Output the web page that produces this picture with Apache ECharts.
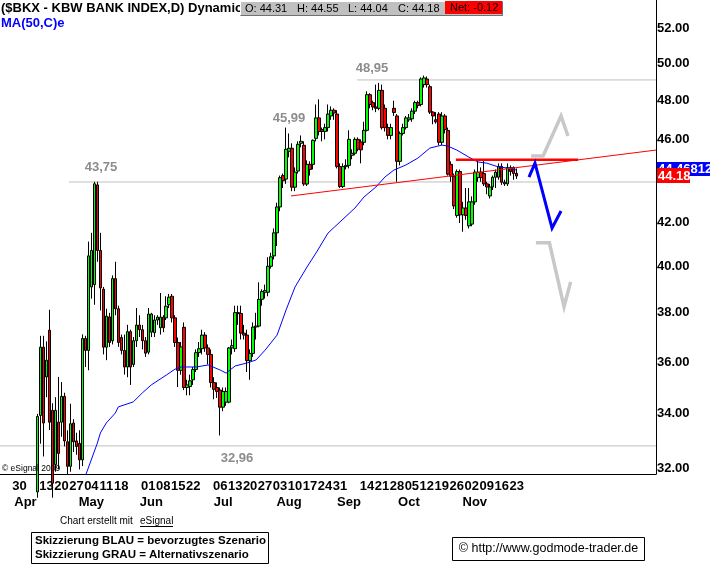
<!DOCTYPE html>
<html><head><meta charset="utf-8">
<script src="https://cdn.jsdelivr.net/npm/echarts@6/dist/echarts.min.js"></script>
<style>html,body{margin:0;padding:0;background:#fff}#c{width:720px;height:567px}</style>
</head><body><div id="c"></div>
<script>
// ---- categories: trading days (index 6 = 2009-03-30)
const NCAT = 219;
const LEAD = 6;
const holidays = ["2009-04-10","2009-05-25","2009-07-03","2009-09-07","2009-11-26","2009-12-25","2010-01-01","2010-01-18","2010-02-15"];
// day index 0 = 2009-03-30
const opens = [null,null,null,null,null,null,
31.2,33.94,36.59,35.41,37.28,34.13,32.15,33.69,33.69,34.66,32.97,32.09,33.66,33.0,32.91,32.32,36.94,36.46,39.1,39.2,43.75,40.7,39.0,36.59,37.83,36.85,39.46,38.17,36.98,36.46,35.8,37.22,35.9,36.85,37.49,37.3,36.85,36.39,37.2,37.18,37.7,37.38,37.82,37.79,38.34,38.7,37.79,36.78,
35.67,37.4,35.0,35.04,35.3,35.7,36.37,36.53,37.08,36.56,36.3,35.19,35.0,34.9,34.25,34.44,34.44,36.56,36.53,37.97,37.97,37.16,37.08,36.05,36.34,37.41,37.45,38.57,38.87,38.87,40.0,40.46,
41.5,42.7,44.2,44.03,45.4,45.55,43.64,44.42,45.8,45.7,43.79,44.75,44.75,46.05,47.1,46.5,46.4,46.6,
47.2,47.5,47.3,44.64,43.67,44.64,44.7,45.2,45.3,46.0,45.87,45.85,46.46,48.32,47.9,47.67,47.6,48.55,47.6,46.6,46.2,47.6,47.2,
44.9,46.3,46.6,47.0,47.05,47.45,47.9,47.8,48.86,49.16,48.75,47.4,47.0,47.3,45.85,47.2,46.45,44.75,44.17,42.3,44.4,42.33,42.65,41.82,41.9,42.94,44.1,44.37,44.3,43.8,43.22,43.65,44.12,44.12,44.65,43.88,43.8,44.6,44.6,44.31];
const highs = [null,null,null,null,null,null,
34.0,37.05,37.05,36.82,38.13,34.4,34.63,35.41,35.21,34.8,33.39,34.38,33.8,33.3,33.39,37.11,37.05,41.1,41.5,43.9,43.9,41.5,39.1,38.17,38.0,39.6,40.2,38.3,37.1,37.1,37.5,37.3,37.0,38.2,37.9,37.5,37.0,38.2,38.0,37.9,37.9,38.84,37.9,38.7,38.8,38.8,37.9,36.98,
36.8,37.6,35.3,35.5,35.8,36.5,36.8,37.3,37.2,36.7,36.5,35.4,35.2,35.0,35.0,35.0,36.6,36.9,38.3,38.3,38.3,37.5,37.3,36.5,37.6,38.0,39.3,39.0,39.2,40.4,40.6,41.7,
42.9,44.2,44.3,46.6,46.3,45.8,44.6,45.9,46.2,45.9,44.95,44.9,46.0,47.8,48.07,46.6,46.8,47.8,
47.7,47.6,47.5,44.8,44.8,45.0,46.46,45.5,46.1,46.1,46.0,46.9,48.5,48.4,48.0,48.86,48.95,48.86,47.8,46.8,46.8,48.0,47.3,
46.4,46.8,47.2,47.3,47.6,48.0,48.0,49.25,49.35,49.3,48.86,47.45,47.4,47.4,47.4,47.3,46.6,44.9,44.3,44.5,44.5,42.94,43.6,43.6,43.2,44.5,45.0,44.6,45.0,43.9,43.8,44.2,44.5,44.8,44.8,44.0,44.8,44.7,44.65,44.55];
const lows = [null,null,null,null,null,null,
31.0,32.9,32.44,34.63,33.4,31.0,31.9,31.98,33.15,32.8,31.8,31.9,32.6,32.5,31.98,32.1,35.8,35.67,38.6,38.34,40.2,38.1,36.3,36.07,36.6,36.7,37.9,36.6,36.3,35.5,35.4,35.1,35.8,36.6,37.0,36.5,36.2,36.3,37.0,37.0,37.5,37.1,37.2,37.7,38.2,37.6,36.6,35.02,
35.5,34.9,34.7,34.7,35.1,35.6,36.2,36.3,36.4,35.9,35.0,34.55,34.6,33.2,34.1,34.3,34.4,36.3,36.4,37.5,36.9,36.9,35.6,35.3,36.2,36.9,37.4,38.3,38.6,38.7,39.9,40.3,
40.9,42.5,43.6,43.8,45.1,43.45,43.45,44.3,45.6,43.7,43.7,44.2,44.5,45.9,46.2,45.9,46.0,46.4,
47.0,47.0,44.55,43.6,43.6,44.5,44.55,45.0,45.2,45.4,44.8,45.7,46.4,47.6,47.5,47.4,47.5,46.5,46.4,46.0,46.0,47.2,43.9,
44.7,46.2,46.5,46.9,46.9,47.3,47.6,47.7,48.7,48.7,47.3,46.77,46.8,45.7,45.7,46.3,44.2,43.9,42.6,42.2,41.95,41.55,42.1,41.7,41.8,42.8,43.9,43.9,43.7,43.3,43.1,43.5,43.6,44.0,43.75,43.7,43.7,44.2,44.0,44.04];
const closes = [null,null,null,null,null,null,
33.9,36.59,33.66,36.07,33.69,31.5,34.13,32.55,34.66,33.0,32.09,33.63,32.97,32.8,32.32,36.94,36.46,40.46,40.7,43.8,40.7,39.06,36.59,37.86,36.78,39.46,38.17,36.78,36.46,35.8,37.22,35.8,36.85,37.49,37.3,36.85,36.35,37.95,37.95,37.7,37.82,37.82,37.38,38.28,38.66,37.79,36.78,35.67,
36.6,35.0,35.1,35.26,35.7,36.37,36.53,37.08,36.56,36.3,35.19,34.93,34.85,34.25,34.85,34.85,36.56,36.65,38.01,38.01,37.16,37.08,36.05,36.34,37.41,37.45,38.57,38.9,38.95,40.0,40.42,41.5,
42.7,44.1,43.95,45.5,45.55,43.64,44.37,45.75,45.9,43.79,44.75,44.5,45.95,47.1,46.4,46.4,46.6,47.3,
47.5,47.35,44.64,43.67,44.64,44.7,46.0,45.3,46.0,45.5,45.47,46.46,48.32,47.8,47.67,47.6,48.55,46.6,46.6,46.2,46.6,47.38,44.9,
46.3,46.6,47.1,47.1,47.45,47.9,47.75,49.16,49.22,48.86,47.4,47.2,46.9,45.85,47.2,46.5,44.27,44.17,42.75,44.4,42.33,42.65,42.3,42.94,42.94,44.37,44.37,44.1,43.8,43.65,43.65,44.12,44.37,44.65,43.88,43.8,44.6,44.4,44.3,44.18];

// MA(50): day index / value
const maDays   = [22,26,27,29,32,33,38,41,44,49,52,54,59,63,67,69,72,76,79,82,86,89,92,96,99,103,112,115,119,122,125,129,133,137,141,143,146,150,153,156,160,163,166];
const maValues = [31.75,32.92,33.29,33.66,34.03,34.26,34.45,34.79,35.10,35.48,35.72,35.80,35.80,35.88,35.68,35.56,35.84,35.96,36.08,36.47,37.08,38.12,39.10,39.97,40.59,41.49,42.65,43.17,43.65,44.13,44.47,44.72,45.06,45.56,45.71,45.66,45.46,45.11,44.87,44.81,44.62,44.57,44.47];

// axis ticks / labels
const yTicks = [32,34,36,38,40,42,44,46,48,50,52];
const dayLabelDates = ["2009-03-30","2009-04-13","2009-04-20","2009-04-27","2009-05-04","2009-05-11","2009-05-18","2009-06-01","2009-06-08","2009-06-15","2009-06-22","2009-07-06","2009-07-13","2009-07-20","2009-07-27","2009-08-03","2009-08-10","2009-08-17","2009-08-24","2009-08-31","2009-09-14","2009-09-21","2009-09-28","2009-10-05","2009-10-12","2009-10-19","2009-10-26","2009-11-02","2009-11-09","2009-11-16","2009-11-23"];
const monthLabelDates = ["2009-04-01","2009-05-04","2009-06-02","2009-07-07","2009-08-06","2009-09-03","2009-10-02","2009-11-03"];
const monthNames = ["Apr","May","Jun","Jul","Aug","Sep","Oct","Nov"];

// annotations (day index, price)
const grayLineStart = [112.7, 16.5, -6.5];
const grayLineValue = [49.11, 43.89, 32.82];
const grayLabels = ["48,95","43,75","32,96","45,99"];
const trendX = [90.65, 212.5], trendY = [43.22, 45.46];
const resistX = [145.7, 186.5], resistY = [44.98, 44.98];
const blueArrowX = [170.1, 172.1, 177.8, 180.8], blueArrowY = [44.13, 44.81, 41.72, 42.51];
const grayUpX = [170.8, 174.8, 180.8, 183.1], grayUpY = [45.16, 45.16, 47.20, 46.17];
const grayDnX = [172.4, 176.9, 181.8, 184.0], grayDnY = [41.05, 41.05, 38.26, 39.32];
const lastClose = "44.18", maLast = "44.46812";
const header = {o:"44.31", h:"44.55", l:"44.04", c:"44.18", net:"-0.12"};

// ---- build
const dates = (function(){
  const out = []; let t = Date.UTC(2009,2,20);
  while (out.length < NCAT) {
    const dt = new Date(t); const wd = dt.getUTCDay(); const s = dt.toISOString().slice(0,10);
    if (wd !== 0 && wd !== 6 && holidays.indexOf(s) < 0) out.push(s);
    t += 86400000;
  }
  return out;
})();
const candleData = dates.map((d, k) => {
  const i = k - LEAD;
  if (i < 0 || i >= opens.length || opens[i] == null) return '-';
  return [opens[i], closes[i], lows[i], highs[i]];
});
const zip = (xs, ys) => xs.map((x, i) => [x, ys[i]]);
const FONT = '"Liberation Sans", Arial, Helvetica, sans-serif';
const daySet = new Set(dayLabelDates);
const monthMap = {}; monthLabelDates.forEach((d,i)=>monthMap[d]=monthNames[i]);
const XMIN = -LEAD - 0.5, XMAX = NCAT - LEAD - 0.5;

function lineSeries(data, color, width, z, extra) {
  return Object.assign({type:'line', xAxisIndex:2, yAxisIndex:0, data, symbol:'none', silent:true,
    lineStyle:{color, width, cap:'butt', join:'miter'}, z, animation:false}, extra||{});
}
const series = [
  {type:'candlestick', xAxisIndex:0, yAxisIndex:0, data:candleData, barWidth:3, z:3,
   itemStyle:{color:'#00ff00', color0:'#ff0000', borderColor:'#000', borderColor0:'#000', borderWidth:1}},
];
grayLineStart.forEach((s,i)=>series.push(lineSeries([[s,grayLineValue[i]],[XMAX,grayLineValue[i]]],'#c0c0c0',1,1)));
series.push(lineSeries(zip(maDays, maValues), '#0000ff', 1, 5));
series.push(lineSeries(zip(trendX, trendY), '#ff0000', 1, 6));
series.push(lineSeries(zip(resistX, resistY), '#ff0000', 2.5, 6));
series.push(lineSeries(zip(grayUpX, grayUpY), '#c8c8c8', 3.5, 7));
series.push(lineSeries(zip(grayDnX, grayDnY), '#c8c8c8', 3.5, 7));
series.push(lineSeries(zip(blueArrowX, blueArrowY), '#0000ff', 3, 8));

const lbl = {color:'#000', fontWeight:'bold', fontSize:13, fontFamily:FONT};
const option = {
  animation:false,
  backgroundColor:'#fff',
  grid:{left:0, right:64, top:0, bottom:93, containLabel:false},
  xAxis:[
    {type:'category', data:dates, boundaryGap:true, position:'bottom',
     axisLine:{show:true, onZero:false, lineStyle:{color:'#000', width:1}}, axisTick:{show:false}, splitLine:{show:false},
     axisLabel:Object.assign({margin:6, interval:(idx,val)=>daySet.has(val), formatter:v=>v.slice(8,10)}, lbl)},
    {type:'category', data:dates, boundaryGap:true, position:'bottom', offset:16,
     axisLine:{show:false, onZero:false}, axisTick:{show:false}, splitLine:{show:false},
     axisLabel:Object.assign({margin:6, interval:(idx,val)=>!!monthMap[val], formatter:v=>monthMap[v]||''}, lbl)},
    {type:'value', min:XMIN, max:XMAX, show:false, axisLine:{onZero:false}}
  ],
  yAxis:[{type:'log', logBase:10, min:31.82, max:53.63, position:'right',
    axisLine:{show:true, onZero:false, lineStyle:{color:'#000', width:1}}, axisTick:{show:false}, splitLine:{show:false},
    axisLabel:Object.assign({customValues:yTicks, margin:1, formatter:v=>Number(v).toFixed(2)}, lbl)}],
  series,
  graphic:[
    {type:'text', x:1, y:2, z:100, style:{text:'($BKX - KBW BANK INDEX,D) Dynamic', font:'bold 13px '+FONT, fill:'#000'}},
    {type:'text', x:1, y:17, z:100, style:{text:'MA(50,C)e', font:'bold 13px '+FONT, fill:'#0000ff'}},
    {type:'rect', z:101, shape:{x:240, y:1, width:263, height:15}, style:{fill:'#c0c0c0'}},
    {type:'polyline', z:102, shape:{points:[[240.5,15.5],[240.5,1.5],[502.5,1.5]]}, style:{stroke:'#ffffff', fill:null, lineWidth:1}},
    {type:'polyline', z:102, shape:{points:[[240.5,15.5],[502.5,15.5],[502.5,1.5]]}, style:{stroke:'#707070', fill:null, lineWidth:1}},
    {type:'text', x:245, y:3, z:103, style:{text:'O: '+header.o, font:'11px '+FONT, fill:'#000'}},
    {type:'text', x:297, y:3, z:103, style:{text:'H: '+header.h, font:'11px '+FONT, fill:'#000'}},
    {type:'text', x:348, y:3, z:103, style:{text:'L: '+header.l, font:'11px '+FONT, fill:'#000'}},
    {type:'text', x:398, y:3, z:103, style:{text:'C: '+header.c, font:'11px '+FONT, fill:'#000'}},
    {type:'rect', z:103, shape:{x:445, y:1, width:57, height:13}, style:{fill:'#ff0000'}},
    {type:'text', x:450, y:2, z:104, style:{text:'Net: '+header.net, font:'11px '+FONT, fill:'#000'}},
    // annotation labels
    {type:'text', x:372, y:68, z:50, style:{text:grayLabels[0], font:'bold 13px '+FONT, fill:'#8c8c8c', align:'center', verticalAlign:'middle'}},
    {type:'text', x:101, y:167, z:50, style:{text:grayLabels[1], font:'bold 13px '+FONT, fill:'#8c8c8c', align:'center', verticalAlign:'middle'}},
    {type:'text', x:237, y:458, z:50, style:{text:grayLabels[2], font:'bold 13px '+FONT, fill:'#8c8c8c', align:'center', verticalAlign:'middle'}},
    {type:'text', x:289, y:118, z:50, style:{text:grayLabels[3], font:'bold 13px '+FONT, fill:'#8c8c8c', align:'center', verticalAlign:'middle'}},
    {type:'text', x:2, y:469, z:50, style:{text:'\u00a9 eSignal 2009', font:'8.5px '+FONT, fill:'#000', verticalAlign:'middle'}},
    // right-axis value boxes
    {type:'rect', z:110, shape:{x:657, y:162, width:53, height:14}, style:{fill:'#0000ff'}},
    {type:'text', x:658, y:169, z:111, style:{text:maLast, font:'bold 13px '+FONT, fill:'#fff', verticalAlign:'middle'}},
    {type:'rect', z:112, shape:{x:657, y:168, width:33, height:15}, style:{fill:'#ff0000'}},
    {type:'text', x:658, y:176, z:113, style:{text:lastClose, font:'bold 13px '+FONT, fill:'#fff', verticalAlign:'middle'}},
    // footer
    {type:'text', x:60, y:521, z:50, style:{text:'Chart erstellt mit ', font:'10px '+FONT, fill:'#000', verticalAlign:'middle'}},
    {type:'text', x:140, y:521, z:50, style:{text:'eSignal', font:'10px '+FONT, fill:'#000', verticalAlign:'middle'}},
    {type:'line', z:50, shape:{x1:140, y1:526.5, x2:173, y2:526.5}, style:{stroke:'#000', lineWidth:1}},
    {type:'rect', z:50, shape:{x:31.5, y:532.5, width:237, height:31}, style:{fill:'#fff', stroke:'#000', lineWidth:1}},
    {type:'text', x:35, y:541, z:51, style:{text:'Skizzierung BLAU = bevorzugtes Szenario', font:'bold 11.5px '+FONT, fill:'#000', verticalAlign:'middle'}},
    {type:'text', x:35, y:555, z:51, style:{text:'Skizzierung GRAU = Alternativszenario', font:'bold 11.5px '+FONT, fill:'#000', verticalAlign:'middle'}},
    {type:'rect', z:50, shape:{x:452.5, y:537.5, width:192, height:23}, style:{fill:'#fff', stroke:'#000', lineWidth:1}},
    {type:'text', x:548.5, y:549, z:51, style:{text:'\u00a9 http://www.godmode-trader.de', font:'12.5px '+FONT, fill:'#000', align:'center', verticalAlign:'middle'}}
  ]
};
const chart = echarts.init(document.getElementById('c'), null, {renderer:'canvas'});
chart.setOption(option);
</script>
</body></html>
